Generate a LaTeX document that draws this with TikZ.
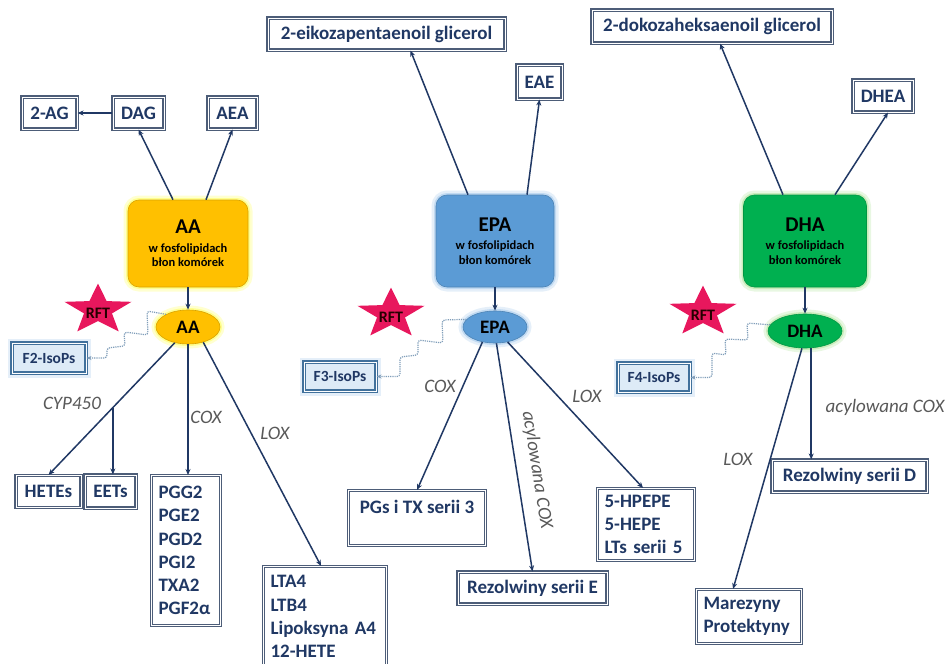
\documentclass[tikz,border=0pt]{standalone}
\usepackage{fontspec}
\setmainfont{Carlito}
\usepackage{tikz}
\usetikzlibrary{arrows.meta,calc,shapes.geometric}
\definecolor{navy}{HTML}{203864}
\definecolor{boxline}{HTML}{4D5D78}
\definecolor{labelgray}{HTML}{595959}
\definecolor{aafill}{HTML}{FFC000}
\definecolor{aaglow}{HTML}{FFFF66}
\definecolor{epafill}{HTML}{5B9BD5}
\definecolor{epaglow}{HTML}{A9CDEE}
\definecolor{dhafill}{HTML}{00B050}
\definecolor{dhaglow}{HTML}{B5E6A0}
\definecolor{starpink}{HTML}{E8175D}
\definecolor{isofill}{HTML}{DDEBF7}
\definecolor{isoline}{HTML}{41719C}
\definecolor{wavecol}{HTML}{7F9DB9}

\tikzset{
  box/.style={draw=boxline,double=white,double distance=0.9pt,line width=1.1pt,fill=white,
    text=navy,font=\bfseries\fontsize{19}{23.3}\selectfont,inner sep=5pt,minimum height=32,
    align=center},
  listbox/.style={box,anchor=north west,align=left,inner xsep=7pt},
  iso/.style={box,draw=isoline,fill=isofill,font=\bfseries\fontsize{15.5}{18}\selectfont,
    glow=epaglow},
  glow/.style={preaction={draw=#1,line width=9pt,opacity=.3},
    preaction={draw=#1,line width=4pt,opacity=.6}},
  src/.style={rounded corners=11pt,draw=#1!85!black,fill=#1,line width=0.6pt,align=center,
    text=black,font=\bfseries\fontsize{12.5}{14.5}\selectfont},
  ell/.style={ellipse,draw=#1!85!black,fill=#1,inner sep=0,line width=0.6pt,
    text=black,font=\bfseries\fontsize{19}{22}\selectfont},
  rftstar/.style={star,star points=5,star point ratio=2.4,minimum size=70.5,inner sep=0,
    fill=starpink,transform shape},
  rfttext/.style={text=black!85!red,font=\bfseries\fontsize{16}{18}\selectfont},
  arr/.style={-{Stealth[length=6pt,width=5pt]},navy,line width=1.5pt},
  wave/.style={densely dotted,wavecol,line width=1.2pt,rounded corners=3pt,
    -{Stealth[length=5pt,width=4pt]}},
  lab/.style={text=labelgray,font=\itshape\fontsize{19}{22}\selectfont}
}

\begin{document}
\begin{tikzpicture}[x=1pt,y=-1pt]
  \useasboundingbox[fill=white] (0,0) rectangle (949,663);

  % AA
  \node[box,minimum width=55] (ag) at (49.5,113) {2-AG};
  \node[box,minimum width=51] (dag) at (138.5,113) {DAG};
  \node[box,minimum width=49] (aea) at (232.5,113) {AEA};
  \node[src=aafill,glow=aaglow,minimum width=120,minimum height=87] (aa) at (188,243.5)
    {{\fontsize{21}{24}\selectfont AA}\\[4pt]w fosfolipidach\\błon komórek};
  \node[ell=aafill,glow=aaglow,minimum width=64,minimum height=34] (aaE) at (188,327) {AA};
  \begin{scope}[shift={(98,310)},yscale=.75]
    \node[rftstar] (star1) at (0,0) {};
  \end{scope}
  \node[rfttext] (rft1) at (98,313) {RFT};
  \node[iso,minimum width=74,minimum height=30] (f2) at (49,358) {F2-IsoPs};
  \node[box,minimum width=65] (hetes) at (48.5,491.5) {HETEs};
  \node[box,minimum width=51,minimum height=33] (eets) at (110.5,491.5) {EETs};
  \node[listbox,text width=55,minimum height=150] (pg) at (151,475)
    {PGG2\\PGE2\\PGD2\\PGI2\\TXA2\\PGF2α};
  \node[listbox,text width=109,inner ysep=9pt] (lt) at (263,566)
    {LTA4\\LTB4\\Lipoksyna A4\\12-HETE};
  \node[lab] (cyplab) at (72,403) {CYP450};
  \node[lab] (coxaa) at (206,417) {COX};
  \node[lab] (loxaa) at (275,433) {LOX};

  \draw[arr] (dag.west) -- (ag.east);
  \draw[arr] ($(aa.north)+(-15,0)$) -- (dag.south);
  \draw[arr] ($(aa.north)+(18,0)$) -- (aea.south);
  \draw[arr] (aa.south) -- (aaE.north);
  \draw[wave] (aaE.150) -- (147,311) -- (148,335) -- (124,332) -- (125,346) -- (107,348)
    -- (107,358) -- (f2.east);
  \draw[arr] (aaE.-130) -- coordinate[pos=.49] (cyp) (hetes.north);
  \draw[arr] (cyp) -- (cyp |- eets.north);
  \draw[arr] (aaE.south) -- (aaE.south |- pg.north);
  \draw[arr] (aaE.-45) -- ($(lt.north)+(-4,0)$);

  % EPA
  \node[box,minimum width=237] (eiko) at (386.5,34) {2-eikozapentaenoil glicerol};
  \node[box,minimum width=45,minimum height=34] (eae) at (539.5,82) {EAE};
  \node[src=epafill,glow=epaglow,minimum width=118,minimum height=92] (epa) at (495,241)
    {{\fontsize{21}{24}\selectfont EPA}\\[4pt]w fosfolipidach\\błon komórek};
  \node[ell=epafill,glow=epaglow,minimum width=64,minimum height=32] (epaE) at (495,327) {EPA};
  \begin{scope}[shift={(391,314)},yscale=.75]
    \node[rftstar] (star2) at (0,0) {};
  \end{scope}
  \node[rfttext] (rft2) at (391,317) {RFT};
  \node[iso,minimum width=72,minimum height=29] (f3) at (340,376.5) {F3-IsoPs};
  \node[box,minimum width=137,minimum height=55,anchor=north west] (pgs)
    at (348,490) {PGs i TX serii 3\\\mbox{}};
  \node[box,minimum width=149] (reze) at (532.5,588) {Rezolwiny serii E};
  \node[listbox,text width=83,minimum height=72] (hpepe) at (597,488)
    {5-HPEPE\\5-HEPE\\LTs serii 5};
  \node[lab] (coxepa) at (440,386) {COX};
  \node[lab,rotate=-81] (acylepa) at (537,470) {acylowana COX};
  \node[lab] (loxepa) at (587,396) {LOX};

  \draw[arr] ($(epa.north)+(-27,0)$) -- ($(eiko.south)+(24,0)$);
  \draw[arr] ($(epa.north)+(32,0)$) -- (eae.south);
  \draw[arr] (epa.south) -- (epaE.north);
  \draw[wave] (epaE.165) -- (442,320) -- (443,343) -- (418,340) -- (418,355) -- (400,357)
    -- (400,376.5) -- (f3.east);
  \draw[arr] (epaE.-130) -- (pgs.north);
  \draw[arr] (epaE.-85) -- (reze.north);
  \draw[arr] (epaE.-50) -- ($(hpepe.north)+(-3,0)$);

  % DHA
  \node[box,minimum width=240,minimum height=33] (doko) at (712,26.5) {2-dokozaheksaenoil glicerol};
  \node[box,minimum width=60] (dhea) at (883,96) {DHEA};
  \node[src=dhafill,glow=dhaglow,minimum width=123,minimum height=92] (dha) at (805,241)
    {{\fontsize{21}{24}\selectfont DHA}\\[4pt]w fosfolipidach\\błon komórek};
  \node[ell=dhafill,glow=dhaglow,minimum width=74,minimum height=34] (dhaE) at (805,331) {DHA};
  \begin{scope}[shift={(703,312)},yscale=.75]
    \node[rftstar] (star3) at (0,0) {};
  \end{scope}
  \node[rfttext] (rft3) at (703,315) {RFT};
  \node[iso,minimum width=72,minimum height=29] (f4) at (654,377.5) {F4-IsoPs};
  \node[box,minimum width=155] (rezd) at (849.5,476) {Rezolwiny serii D};
  \node[listbox,text width=91,minimum height=54] (mare) at (696,589) {Marezyny\\Protektyny};
  \node[lab] (loxdha) at (738,459) {LOX};
  \node[lab] (acyldha) at (885,407) {acylowana COX};

  \draw[arr] ($(dha.north)+(-22,0)$) -- ($(doko.south)+(8,0)$);
  \draw[arr] ($(dha.north)+(30,0)$) -- ($(dhea.south)+(5,0)$);
  \draw[arr] (dha.south) -- (dhaE.north);
  \draw[wave] (dhaE.170) -- (747,323) -- (748,340) -- (725,339) -- (726,355) -- (712,353)
    -- (712,377.5) -- (f4.east);
  \draw[arr] (dhaE.-100) -- ($(mare.north)+(-16,0)$);
  \draw[arr] (dhaE.-70) -- (dhaE.-70 |- rezd.north);
\end{tikzpicture}
\end{document}
